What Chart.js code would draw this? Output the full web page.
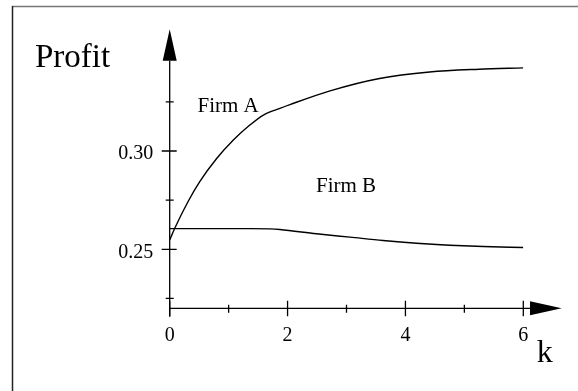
<!DOCTYPE html>
<html>
<head>
<meta charset="utf-8">
<script src="https://cdn.jsdelivr.net/npm/chart.js@4.4.0/dist/chart.umd.min.js"></script>
<style>
  html, body { margin: 0; padding: 0; background: #fff; }
  #wrap { width: 578px; height: 391px; }
</style>
</head>
<body>
<div id="wrap"><canvas id="profitChart" width="578" height="391"></canvas></div>
<script>
// values
const kFirmA = [0, 0.1, 0.31, 0.51, 0.80, 1.08, 1.36, 1.59, 1.87, 2.04, 2.72, 3.56, 4.41, 5.25, 6];
const profitFirmA = [0.2548, 0.2616, 0.2742, 0.2844, 0.2963, 0.3056, 0.3132, 0.3183, 0.3217, 0.3236, 0.3306, 0.3369, 0.3402, 0.3416, 0.3423];
const kFirmB = [0, 0.85, 1.36, 1.70, 1.87, 2.49, 3.06, 3.62, 4.19, 4.75, 5.32, 6];
const profitFirmB = [0.2605, 0.2605, 0.2605, 0.2604, 0.2601, 0.2579, 0.2562, 0.2545, 0.2531, 0.2521, 0.2514, 0.2509];

const xTicks = [0, 1, 2, 3, 4, 5, 6];
const xTickLabels = ['0', '', '2', '', '4', '', '6'];
const yTicks = [0.225, 0.25, 0.275, 0.30, 0.325];
const yTickLabels = ['', '0.25', '', '0.30', ''];

const serif = 'Liberation Serif';

function toPoints(xs, ys) {
  return xs.map((k, i) => ({ x: k, y: ys[i] }));
}

// draws the arrow axes, the crossing tick marks, the frame and the text labels
const arrowAxes = {
  id: 'arrowAxes',
  beforeDraw(chart) {
    const c = chart.ctx;
    c.save();
    c.fillStyle = '#fff';
    c.fillRect(0, 0, chart.width, chart.height);
    c.lineWidth = 1.5;
    c.strokeStyle = '#777';
    c.beginPath();
    c.moveTo(12, 6.5);
    c.lineTo(chart.width, 6.5);
    c.stroke();
    c.strokeStyle = '#222';
    c.beginPath();
    c.moveTo(12.5, chart.height);
    c.lineTo(12.5, 6);
    c.stroke();
    c.restore();
  },
  afterDraw(chart) {
    const c = chart.ctx;
    const x = chart.scales.x, y = chart.scales.y;
    const ax = x.getPixelForValue(0);
    const ay = y.getPixelForValue(y.min);
    c.save();
    c.strokeStyle = '#000';
    c.fillStyle = '#000';
    c.lineWidth = 1.3;

    // axis lines
    c.beginPath();
    c.moveTo(ax, ay + 8.5);
    c.lineTo(ax, chart.chartArea.top + 8);
    c.moveTo(ax, ay);
    c.lineTo(chart.chartArea.right + 7, ay);
    c.stroke();

    // arrow heads
    const yTip = chart.chartArea.top - 23.4;
    c.beginPath();
    c.moveTo(ax, yTip);
    c.lineTo(ax - 7, yTip + 31.5);
    c.lineTo(ax + 7, yTip + 31.5);
    c.closePath();
    c.fill();
    const xTip = chart.chartArea.right + 38.4;
    c.beginPath();
    c.moveTo(xTip, ay);
    c.lineTo(xTip - 31.7, ay - 7);
    c.lineTo(xTip - 31.7, ay + 7);
    c.closePath();
    c.fill();

    // tick marks across the axes
    c.beginPath();
    x.ticks.forEach((t, i) => {
      const px = x.getPixelForValue(t.value);
      const big = xTickLabels[i] !== '';
      c.moveTo(px, ay - (big ? 7.5 : 3.5));
      c.lineTo(px, ay + (big ? 8 : 4.5));
    });
    y.ticks.forEach((t, i) => {
      const py = y.getPixelForValue(t.value);
      const big = yTickLabels[i] !== '';
      c.moveTo(ax - (big ? 8 : 4), py);
      c.lineTo(ax + (big ? 7 : 4), py);
    });
    c.stroke();

    // text labels
    c.textAlign = 'left';
    c.textBaseline = 'alphabetic';
    c.font = '33px "' + serif + '"';
    c.fillText('Profit', 35, 66.7);
    c.font = '21px "' + serif + '"';
    c.fillText('Firm A', 197.5, 112.3);
    c.fillText('Firm B', 316, 191.5);
    c.font = '32px "' + serif + '"';
    c.fillText('k', 536.7, 361.7);
    c.restore();
  }
};

new Chart(document.getElementById('profitChart'), {
  type: 'line',
  data: {
    datasets: [
      {
        label: 'Firm A',
        data: toPoints(kFirmA, profitFirmA),
        borderColor: '#000',
        borderWidth: 1.4,
        pointRadius: 0,
        cubicInterpolationMode: 'monotone',
        fill: false
      },
      {
        label: 'Firm B',
        data: toPoints(kFirmB, profitFirmB),
        borderColor: '#000',
        borderWidth: 1.4,
        pointRadius: 0,
        cubicInterpolationMode: 'monotone',
        fill: false
      }
    ]
  },
  options: {
    responsive: false,
    animation: false,
    devicePixelRatio: 1,
    layout: { padding: { top: 52.7, right: 54.7, bottom: 0, left: 0 } },
    plugins: {
      legend: { display: false },
      tooltip: { enabled: false }
    },
    scales: {
      x: {
        type: 'linear',
        min: 0,
        max: 6,
        grid: { display: false, drawTicks: false },
        border: { display: false },
        afterBuildTicks: s => { s.ticks = xTicks.map(v => ({ value: v })); },
        afterFit: s => { s.height = 82.7; },
        ticks: {
          callback: (v, i) => xTickLabels[i],
          font: { family: serif, size: 20 },
          color: '#000',
          padding: 15,
          maxRotation: 0,
          autoSkip: false
        }
      },
      y: {
        type: 'linear',
        min: 0.22,
        max: 0.35,
        grid: { display: false, drawTicks: false },
        border: { display: false },
        afterBuildTicks: s => { s.ticks = yTicks.map(v => ({ value: v })); },
        afterFit: s => { s.width = 169.7; },
        ticks: {
          callback: (v, i) => yTickLabels[i],
          font: { family: serif, size: 20 },
          color: '#000',
          padding: 16.5,
          labelOffset: 3,
          autoSkip: false
        }
      }
    }
  },
  plugins: [arrowAxes]
});
</script>
</body>
</html>
